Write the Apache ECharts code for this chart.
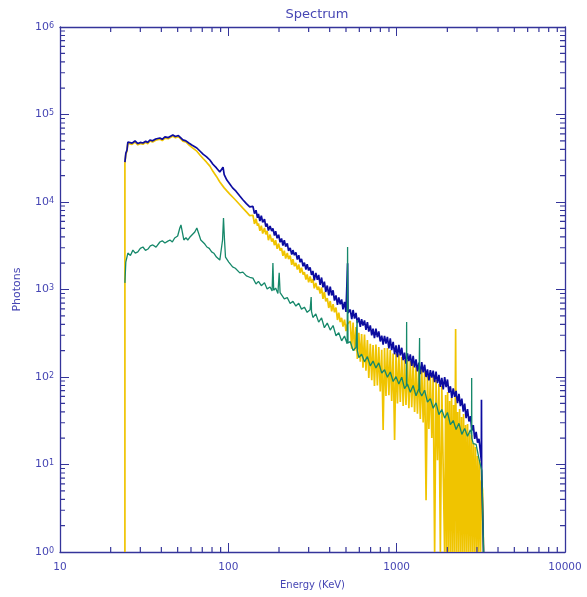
<!DOCTYPE html>
<html>
<head>
<meta charset="utf-8">
<title>Spectrum</title>
<script src="https://cdn.jsdelivr.net/npm/echarts@6/dist/echarts.min.js"></script>
<style>
  body { margin: 0; background: #fff; }
  #chart { width: 587px; height: 597px; }
</style>
</head>
<body>
<div id="chart"></div>
<script>
// [energy keV, photons]
const blue = [
  [24.3,28600],[24.6,36000],[25.0,39300],[25.3,48500],[26.0,50500],[26.8,47000],[27.9,49800],[29.0,46500],[30.0,48000],[31.1,47200],
  [32.3,49500],[33.2,47800],[34.2,51200],[35.5,50000],[37.0,52500],[39.2,53900],[40.5,52000],[42.0,55500],[44.0,54500],[46.8,58300],
  [48.5,56000],[50.5,57500],[52.0,54500],[53.7,51200],[56.0,50000],[58.5,47000],[61.0,44500],[65.0,41400],[68.0,38000],[71.0,35000],
  [74.0,33000],[77.7,30200],[81.0,27000],[85.0,24500],[89.0,22000],[91.0,21500],[93.0,25000],[94.5,20500],[98.0,17800],[102,16100],
  [106,14500],[111,13300],[117,11700],[122,10600],[128,9600],[134,8800],
  [140,8910],[143,7380],[146,8050],[149,6610],[151,7290],[154,6040],[157,6970],[160,5870],[164,6350],[167,5220],
  [170,5650],[173,4720],[177,5300],[181,4650],[184,4990],[188,4135],[191,4650],[195,3850],[199,4220],[203,3470],
  [207,3830],[211,3180],[215,3670],[219,3100],[224,3360],[228,2760],[233,2990],[238,2506],[242,2820],[247,2470],
  [252,2650],[257,2200],[262,2470],[267,2050],[272,2240],[278,1843],[283,2030],[289,1690],[294,1950],[300,1648],
  [306,1790],[312,1470],[318,1630],[324,1271],[331,1550],[338,1290],[344,1470],[351,1130],[358,1370],[365,1060],
  [372,1230],[379,938],[387,1110],[395,854],[403,1080],[411,855],[419,980],[427,746],[436,857],[445,669],
  [453,810],[462,679],[471,769],[480,592],[490,720],[500,555],[508,540],[511,2000],[514,540],
  [530,590],[541,458],[551,583],[562,466],[573,540],[584,413],[596,478],[608,375],[619,459],[631,387],
  [644,443],[657,345],[670,424],[683,330],[697,389],[711,299],[724,357],[738,278],[753,356],[768,285],
  [783,332],[799,255],[815,297],[831,234],[847,295],[864,241],[881,288],[899,212],[916,276],[934,203],
  [953,252],[972,182],[991,230],[1011,169],[1030,233],[1051,177],[1072,216],[1093,156],[1114,190],[1136,142],
  [1159,186],[1182,152],[1205,181],[1229,134],[1253,174],[1278,129],[1303,159],[1329,116],[1355,146],[1382,108],
  [1409,148],[1437,113],[1466,138],[1495,100],[1524,122],[1554,91.5],[1585,120],[1617,98.3],[1648,118],[1681,87.6],
  [1714,115],[1748,85.1],[1782,106],[1818,77.1],[1854,97.5],[1891,72.3],[1928,99.8],[1967,76.6],[2004,93.7],[2044,66.1],
  [2084,78.4],[2126,57.7],[2168,73.9],[2211,59.2],[2254,69.4],[2299,50.2],[2344,64.3],[2391,46.5],[2438,56.5],[2487,40.2],
  [2535,49.7],[2586,33.8],[2636,42.9],[2689,31.0],[2742,35.7],[2797,24.5],[2851,28.2],[2908,19.6],[2965,23.6],[3024,17.8],
  [3083,19.7],[3185,11],[3190,55],[3197,9],[3206,7.1],[3281,1]
];

const yellow = [
  [24.3,1],[24.3,27700],[24.6,34900],[25.0,38100],[25.3,47000],[26.0,49000],[26.8,45600],[27.9,48300],[29.0,45100],[30.0,46600],
  [31.1,45800],[32.3,48000],[33.2,46400],[34.2,49700],[35.5,48500],[37.0,50900],[39.2,52300],[40.5,50400],[42.0,53800],[44.0,52900],
  [46.8,56600],[48.5,54300],[50.5,55800],[52.0,52900],[53.7,49700],[56.0,48500],[58.5,44600],[61.0,41800],[65.0,38100],[68.0,34200],
  [71.0,31200],[74.0,28700],[77.7,25700],[81.0,22400],[85.0,19600],[89.0,16900],[94.5,14500],[98.0,13400],[102,12300],[106,11400],
  [111,10400],[117,9300],[122,8500],[128,7700],[134,7000],
  [140,7060],[143,5620],[146,6440],[149,5350],[151,5700],[154,4680],[157,5350],[160,4355],[164,5040],[167,4270],
  [170,4690],[173,3660],[177,4240],[181,3520],[184,3820],[188,3210],[191,3670],[195,2920],[199,3350],[203,2780],
  [207,2960],[211,2430],[215,2780],[219,2260],[224,2615],[228,2220],[233,2440],[238,1910],[242,2218],[247,1845],
  [252,2010],[257,1690],[262,1936],[267,1547],[272,1780],[278,1480],[283,1576],[289,1297],[294,1490],[300,1210],
  [306,1408],[312,1195],[318,1320],[324,1030],[331,1191],[338,991],[344,1080],[351,899],[358,1057],[365,782],
  [372,938],[379,733],[387,798],[395,615],[403,738],[411,561],[419,682],[427,548],[436,622],[445,448],
  [453,545],[462,425],[471,475],[480,377],[490,452],[500,334],[509,401],
  [530,437],[540,210],[551,420],[562,200],[573,373],[584,161],[596,320],[608,150],[619,310],[631,128],
  [644,305],[657,118],[670,265],[683,97.5],[697,240],[711,92],[724,232],[738,78.9],[753,235],[768,80],
  [783,220],[799,68.2],[815,205],[831,24.8],[847,214],[864,60.7],[881,214],[899,62],[916,204],[934,53.3],
  [953,186],[972,19.1],[991,186],[1011,49.8],[1030,182],[1051,52],[1072,169],[1093,46.5],[1114,158],[1136,48],
  [1159,156],[1182,43.9],[1205,153],[1229,45],[1253,145],[1278,39.8],[1303,130],[1329,38],[1355,130],[1382,33.1],
  [1409,126],[1437,30.2],[1466,116],[1495,3.9],[1524,104],[1554,25.5],[1585,104],[1617,20.1],[1648,101],[1681,1],
  [1714,92.5],[1748,11.2],[1782,83],[1818,1],[1854,78.9],
  [1927,1],[1954,62.2],[1980,1],[2008,67.4],[2035,1],[2063,53.2],[2092,1],[2120,59.0],[2150,1],[2179,47.9],
  [2209,1],[2240,354],[2270,1],[2302,39.8],[2333,1],[2365,43.1],[2398,1],[2431,34.9],[2464,1],[2498,37.8],
  [2532,1],[2567,28.3],[2602,1],[2638,29.0],[2674,1],[2711,22.9],[2748,1],[2786,21.7],[2824,1],[2863,17.6],
  [2902,1],[2942,15.8],[2983,1],[3024,12.5],[3065,1],[3107,11.2],[3150,1],[3193,6.6],[3237,5.1],[3282,1]
];

const green = [
  [24.3,1190],[24.6,2060],[25.3,2610],[26.2,2450],[27.1,2820],[28.0,2600],[29.0,2690],[30.0,2950],[31.1,3060],[32.2,2800],
  [33.3,2900],[34.4,3150],[35.6,3230],[37.2,3050],[39.2,3490],[40.5,3600],[42.0,3400],[43.5,3550],[45.0,3680],[46.5,3500],
  [48.0,3880],[50.0,4090],[51.5,5050],[52.3,5460],[53.0,4790],[54.4,3680],[56.0,3900],[57.4,3680],[59.0,3950],[60.6,3880],
  [63.2,4540],[65.0,5050],[66.8,4310],[68.6,3680],[70.5,3500],[72.5,3310],[74.6,3060],[77.0,2950],[79.6,2690],[82.0,2600],
  [85.0,2350],[87.0,2450],[89.0,2170],[91.1,2060],[92.4,3680],[93.6,6560],[94.9,3680],[96.2,2350],[100.6,2060],[103,2150],
  [106,1810],[110,1750],[117,1550],[122,1580],[128,1430],[134,1380],
  [140,1349],[146,1156],[151,1239],[157,1107],[164,1191],[170,1016],[177,1067],[182,960],[184,2010],[186,980],
  [191,1038],[197,900],[200.5,1550],[203,920],[207,933],[215,780],[224,807],[233,693],[242,733],[252,647],
  [262,697],[272,597],[283,628],[294,548],[306,586],[309,600],[310.5,820],[312,560],[318,479],[331,526],
  [344,424],[358,473],[372,366],[387,413],[403,344],[419,388],[436,296],[453,320],[471,259],[490,294],
  [508,240],[511,3060],[514,245],[530,254],[551,201],[573,217],[580,210],[582,448],[584,200],[596,167],
  [619,182],[644,149],[670,171],[697,134],[724,152],[753,127],[783,145],[815,111],[847,121],[881,99.5],
  [916,114],[953,88.9],[991,101],[1030,83.4],[1072,99.3],[1114,73.8],[1143,80],[1146,425],[1149,78],[1159,83.4],
  [1205,66.8],[1253,80.0],[1303,61.1],[1355,73.5],[1365,70],[1368,279],[1371,68],[1409,60.7],[1466,70.6],[1524,51.5],
  [1585,56.6],[1648,43.9],[1714,50.7],[1782,37.2],[1854,42.5],[1928,33.9],[2004,39.3],[2084,28.6],[2168,31.8],[2254,25.1],
  [2344,29.5],[2438,22.1],[2535,25.8],[2636,21.0],[2742,24.9],[2785,22],[2790,97.5],[2795,20],[2851,17.3],[2965,17.0],
  [3083,11.7],[3206,8.5],[3281,1]
];

const xTicks = [10, 100, 1000, 10000];
const yTicks = [1, 10, 100, 1000, 10000, 100000, 1000000];
// minor log ticks: 2..9 in every decade
const minorOf = t => t.slice(0, -1).flatMap(d => [2, 3, 4, 5, 6, 7, 8, 9].map(m => d * m));
const xMinor = minorOf(xTicks);
const yMinor = minorOf(yTicks);

const axisBlue = '#34349a';
const textBlue = '#4646b4';
const font = 'DejaVu Sans, sans-serif';

// short inward tick segments in data space, broken by empty points
function minorTickData() {
  const xMin = xTicks[0], xMax = xTicks[xTicks.length - 1];
  const yMin = yTicks[0], yMax = yTicks[yTicks.length - 1];
  const fy = 1.14, fx = 1.071; // about 5px on each axis
  const d = [];
  xMinor.forEach(v => d.push([v, yMin], [v, yMin * fy], [v, '-'], [v, yMax], [v, yMax / fy], [v, '-']));
  yMinor.forEach(v => d.push([xMin, v], [xMin * fx, v], ['-', v], [xMax, v], [xMax / fx, v], ['-', v]));
  return d;
}

const chart = echarts.init(document.getElementById('chart'));

function xAxisCfg(pos) {
  const main = pos === 'bottom';
  return {
    type: 'log', logBase: 10, min: xTicks[0], max: xTicks[xTicks.length - 1],
    position: pos,
    axisLine: { onZero: false, lineStyle: { color: axisBlue, width: 1.3 } },
    axisTick: { inside: true, length: 9, lineStyle: { color: axisBlue } },
    axisLabel: { show: main, color: textBlue, fontSize: 10.5, fontFamily: font, margin: 10,
      formatter: v => String(Math.round(v)) },
    splitLine: { show: false },
    name: main ? 'Energy (KeV)' : '',
    nameLocation: 'middle', nameGap: 28,
    nameTextStyle: { color: textBlue, fontSize: 10, fontFamily: font }
  };
}

function yAxisCfg(pos) {
  const main = pos === 'left';
  return {
    type: 'log', logBase: 10, min: yTicks[0], max: yTicks[yTicks.length - 1],
    position: pos, splitNumber: 6,
    axisLine: { onZero: false, lineStyle: { color: axisBlue, width: 1.3 } },
    axisTick: { inside: true, length: 9, lineStyle: { color: axisBlue } },
    axisLabel: { show: main, margin: 6,
      formatter: v => '{b|10}{s|' + Math.round(Math.log10(v)) + '}',
      rich: {
        b: { fontSize: 11, color: textBlue, fontFamily: font },
        s: { fontSize: 8, color: textBlue, fontFamily: font, verticalAlign: 'top' }
      }
    },
    splitLine: { show: false },
    name: main ? 'Photons' : '',
    nameLocation: 'middle', nameGap: 37,
    nameTextStyle: { color: textBlue, fontSize: 11, fontFamily: font }
  };
}

function lineSeries(name, data, color, width) {
  return {
    name, type: 'line', data, showSymbol: false, symbol: 'none',
    xAxisIndex: 0, yAxisIndex: 0, connectNulls: false,
    lineStyle: { color, width }, emphasis: { disabled: true }
  };
}

const ticks = lineSeries('minor ticks', minorTickData(), axisBlue, 1.2);
ticks.silent = true;
ticks.z = 5;

chart.setOption({
  animation: false,
  backgroundColor: '#fff',
  title: {
    text: 'Spectrum', left: 312, top: 3, textAlign: 'center',
    textStyle: { color: textBlue, fontSize: 13, fontWeight: 'normal', fontFamily: font }
  },
  grid: { left: 60, right: 22, top: 27, bottom: 45 },
  xAxis: [xAxisCfg('bottom'), xAxisCfg('top')],
  yAxis: [yAxisCfg('left'), yAxisCfg('right')],
  series: [
    lineSeries('Background', yellow, '#f0c400', 1.7),
    lineSeries('Total', blue, '#0c0ca0', 1.7),
    lineSeries('Source', green, '#16886a', 1.3),
    ticks
  ]
});
</script>
</body>
</html>
